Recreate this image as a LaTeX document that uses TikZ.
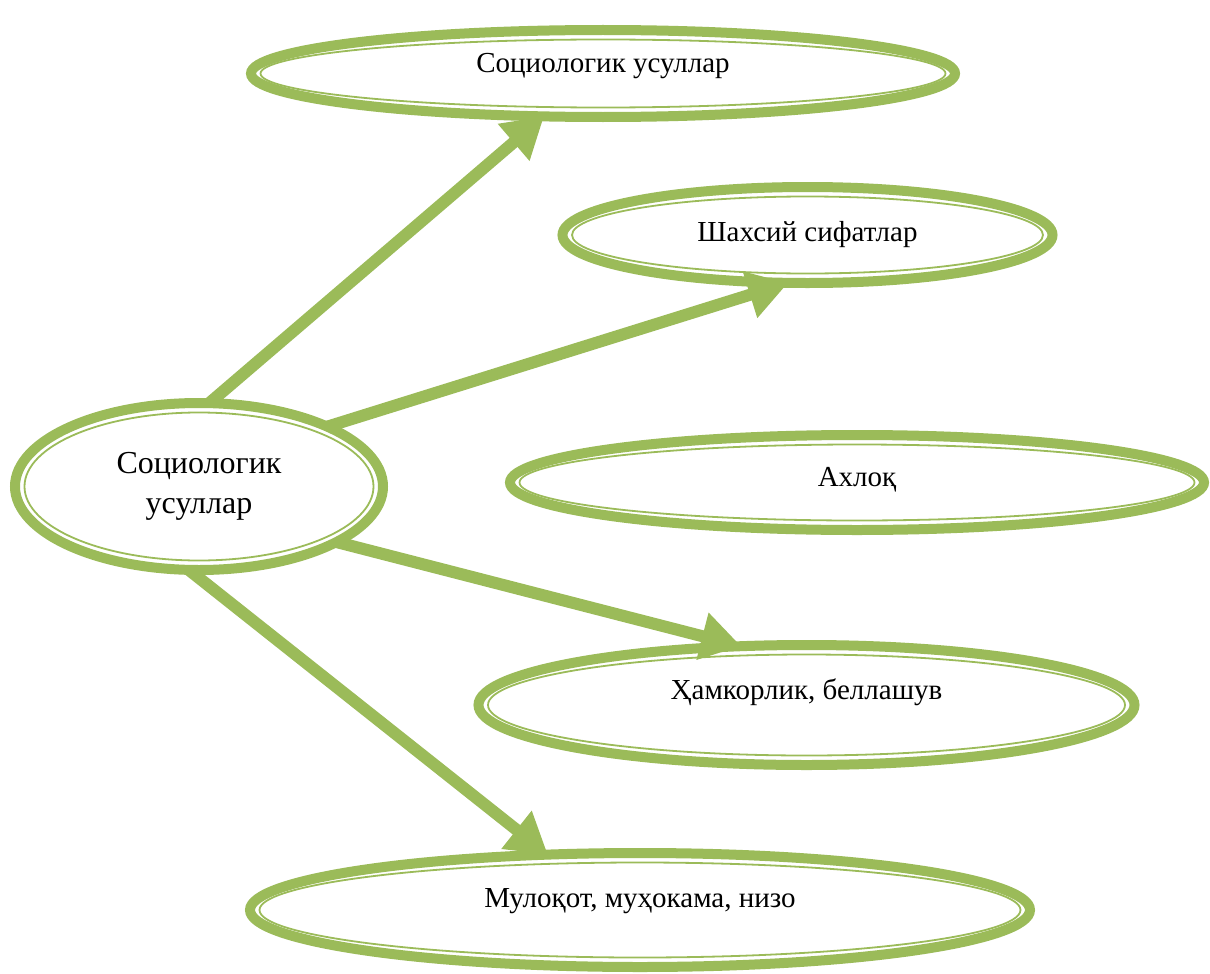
\documentclass[tikz,border=0pt]{standalone}
\usepackage{fontspec}
\setmainfont{Liberation Serif}
\usetikzlibrary{arrows.meta,shapes.geometric,calc}
\definecolor{leafgreen}{HTML}{9BBB59}

\begin{document}
\begin{tikzpicture}[x=1pt,y=-1pt,
        bubble/.style={ellipse,draw=leafgreen,line width=10pt,inner sep=0pt,
            outer sep=0pt,align=center,font=\fontsize{29}{35}\selectfont,
            path picture={\draw[leafgreen,line width=1.8pt]
                let \p1=(path picture bounding box.north east),
                    \p2=(path picture bounding box.center) in
                (\p2) ellipse [x radius=\x1-\x2-9.5pt, y radius=\y1-\y2-9.5pt];}},
        lift/.style={text depth=#1},
        link/.style={draw=leafgreen,line width=12pt,
            -{Triangle[length=40pt,width=46pt]}}]

        \useasboundingbox (0,0) rectangle (1210,974);

        \node[bubble,minimum width=368pt,minimum height=167pt,
              font=\fontsize{32}{40}\selectfont] (soc) at (199,486.5)
              {Социологик\\усуллар};
        \node[bubble,lift=22pt,minimum width=704pt,minimum height=87pt] (top) at (603,73.5)
              {Социологик усуллар};
        \node[bubble,minimum width=490pt,minimum height=96pt] (shax) at (807.5,235)
              {Шахсий сифатлар};
        \node[bubble,lift=12pt,minimum width=694pt,minimum height=95pt] (axl) at (857,482.5)
              {Ахлоқ};
        \node[bubble,lift=32pt,minimum width=656pt,minimum height=120pt] (ham) at (806.5,705)
              {Ҳамкорлик, беллашув};
        \node[bubble,lift=24pt,minimum width=780pt,minimum height=114pt] (mul) at (640,910)
              {Мулоқот, муҳокама, низо};

        \path (soc.83) edge[link] (top.216)
              (soc.25) edge[link] (shax.248)
              (soc.-22) edge[link] (ham.138)
              (soc.263) edge[link] (mul.149);
    \end{tikzpicture}
\end{document}
